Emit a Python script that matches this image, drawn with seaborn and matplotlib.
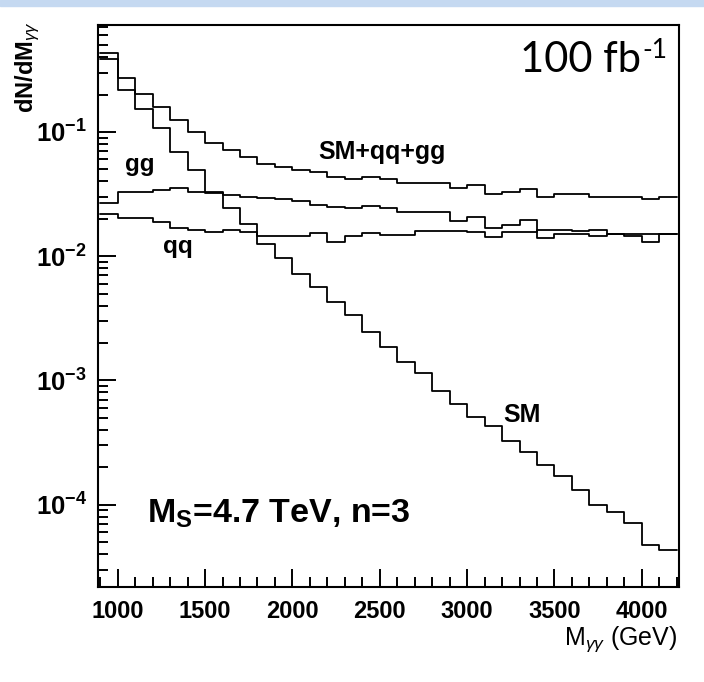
import numpy as np
import matplotlib
matplotlib.use("Agg")
import matplotlib.pyplot as plt
import seaborn as sns
from matplotlib.ticker import LogLocator, FuncFormatter, MultipleLocator, NullFormatter
from matplotlib.patches import Rectangle

# 100 GeV bins from 900 to 4200 GeV
bin_edges = list(range(900, 4201, 100))

sm = [0.385, 0.218, 0.152, 0.107, 0.0694, 0.0494, 0.0331, 0.0243, 0.0182, 0.0125,
      0.00962, 0.00712, 0.0056, 0.0043, 0.00336, 0.00247, 0.00187, 0.00141, 0.00114,
      0.000826, 0.000646, 0.00051, 0.000429, 0.000327, 0.000267, 0.000208, 0.00017,
      0.000131, 9.93e-5, 8.76e-5, 7.15e-5, 4.73e-5, 4.31e-5]
total = [0.430, 0.271, 0.202, 0.158, 0.125, 0.1005, 0.0811, 0.0716, 0.0633, 0.0553,
         0.0526, 0.0497, 0.0476, 0.0437, 0.0416, 0.0437, 0.0416, 0.0386, 0.0386, 0.0386,
         0.0352, 0.0371, 0.0315, 0.0331, 0.0346, 0.0301, 0.0317, 0.0317, 0.0301, 0.0301,
         0.0301, 0.0289, 0.0301]
gg = [0.0270, 0.0331, 0.0331, 0.0341, 0.0357, 0.0331, 0.0325, 0.0311, 0.0301, 0.0293,
      0.0286, 0.0278, 0.0257, 0.0247, 0.0243, 0.0254, 0.0243, 0.0228, 0.0228, 0.0228,
      0.0193, 0.0207, 0.0170, 0.0178, 0.0196, 0.0139, 0.0150, 0.0151, 0.0144, 0.0151,
      0.0144, 0.0131, 0.0151]
qq = [0.0218, 0.0201, 0.0201, 0.0187, 0.0168, 0.0162, 0.0157, 0.0163, 0.0157, 0.0145,
      0.0144, 0.0144, 0.0155, 0.0131, 0.0144, 0.0155, 0.0148, 0.0148, 0.0158, 0.0158,
      0.0158, 0.0157, 0.0143, 0.0157, 0.0156, 0.0163, 0.0163, 0.0160, 0.0163, 0.0151,
      0.0151, 0.0151, 0.0151]

x_ticks = [1000, 1500, 2000, 2500, 3000, 3500, 4000]
x_tick_labels = ["1000", "1500", "2000", "2500", "3000", "3500", "4000"]

sns.set_theme(style="ticks", rc={
    "axes.linewidth": 1.5,
    "axes.edgecolor": "black",
    "axes.labelcolor": "black",
    "text.color": "black",
    "xtick.color": "black", "ytick.color": "black",
    "xtick.major.width": 1.4, "ytick.major.width": 1.4,
    "xtick.minor.width": 1.4, "ytick.minor.width": 1.4,
})
plt.rcParams["font.family"] = ["Liberation Sans", "DejaVu Sans"]
plt.rcParams["mathtext.fontset"] = "custom"
plt.rcParams["mathtext.rm"] = "Liberation Sans"
plt.rcParams["mathtext.bf"] = "Liberation Sans:bold"
plt.rcParams["mathtext.it"] = "Liberation Sans:italic"

W, H = 704, 682
fig = plt.figure(figsize=(W / 100, H / 100), dpi=100)
fig.patches.append(Rectangle((0, 1 - 6 / H), 1, 6 / H, transform=fig.transFigure,
                             color="#c5d9f1", zorder=0))

ax_l, ax_r, ax_t, ax_b = 98, 679, 24.7, 587
ax = fig.add_axes([ax_l / W, 1 - ax_b / H, (ax_r - ax_l) / W, (ax_b - ax_t) / H])

for series in (sm, total, gg, qq):
    sns.lineplot(x=bin_edges, y=series + [series[-1]], drawstyle="steps-post",
                 color="black", linewidth=1.3, ax=ax, legend=False)

ax.set_yscale("log")
ax.set_xlim(887, 4213)
ax.set_ylim(2.17e-5, 0.73)

ax.set_xticks(x_ticks, labels=x_tick_labels, fontweight="bold", fontsize=17)
ax.xaxis.set_minor_locator(MultipleLocator(100))
ax.yaxis.set_major_locator(LogLocator(base=10, numticks=12))
ax.yaxis.set_minor_locator(LogLocator(base=10, subs=np.arange(2, 10), numticks=12))
ax.yaxis.set_minor_formatter(NullFormatter())
ax.yaxis.set_major_formatter(FuncFormatter(
    lambda v, p: r"$\mathbf{10^{%d}}$" % int(round(np.log10(v)))))
ax.tick_params(axis="y", which="major", labelsize=18.5, pad=8)
ax.tick_params(axis="x", which="major", pad=9)
ax.tick_params(which="both", direction="in", top=False, right=False)
ax.tick_params(which="major", length=13)
ax.tick_params(which="minor", length=7)

ax.set_xlabel(r"M$_{\gamma\gamma}$ (GeV)", fontsize=18, loc="right")
ax.xaxis.set_label_coords(1 - 1.5 / (ax_r - ax_l), (ax_b - 624) / (ax_b - ax_t))
ax.set_ylabel("")
fig.text(27.5 / W, 1 - 21 / H, r"dN/dM$_{\gamma\gamma}$", rotation=90, ha="center",
         va="top", fontsize=17, fontweight="bold")


def axfrac(px, py):
    return (px - ax_l) / (ax_r - ax_l), (ax_b - py) / (ax_b - ax_t)


txt = dict(transform=ax.transAxes, fontweight="bold", va="baseline")
ax.text(*axfrac(318, 158.7), "SM+qq+gg", fontsize=18, **txt)
ax.text(*axfrac(125, 171), "gg", fontsize=17.5, **txt)
ax.text(*axfrac(163, 253), "qq", fontsize=17.5, **txt)
ax.text(*axfrac(503, 421.7), "SM", fontsize=18, **txt)
ax.text(*axfrac(146.7, 523), r"M$_{\mathbf{S}}$=4.7 TeV, n=3", fontsize=24.5, **txt)

lumi = ax.text(*axfrac(520, 71.7), "100 fb", transform=ax.transAxes,
               fontsize=30, family="Lato", ha="left", va="baseline")
ax.annotate("-1", xy=(1, 1), xycoords=lumi, xytext=(1, 2), textcoords="offset points",
            fontsize=19, family="Lato", ha="left", va="top")

fig.savefig("out.png", dpi=100)
